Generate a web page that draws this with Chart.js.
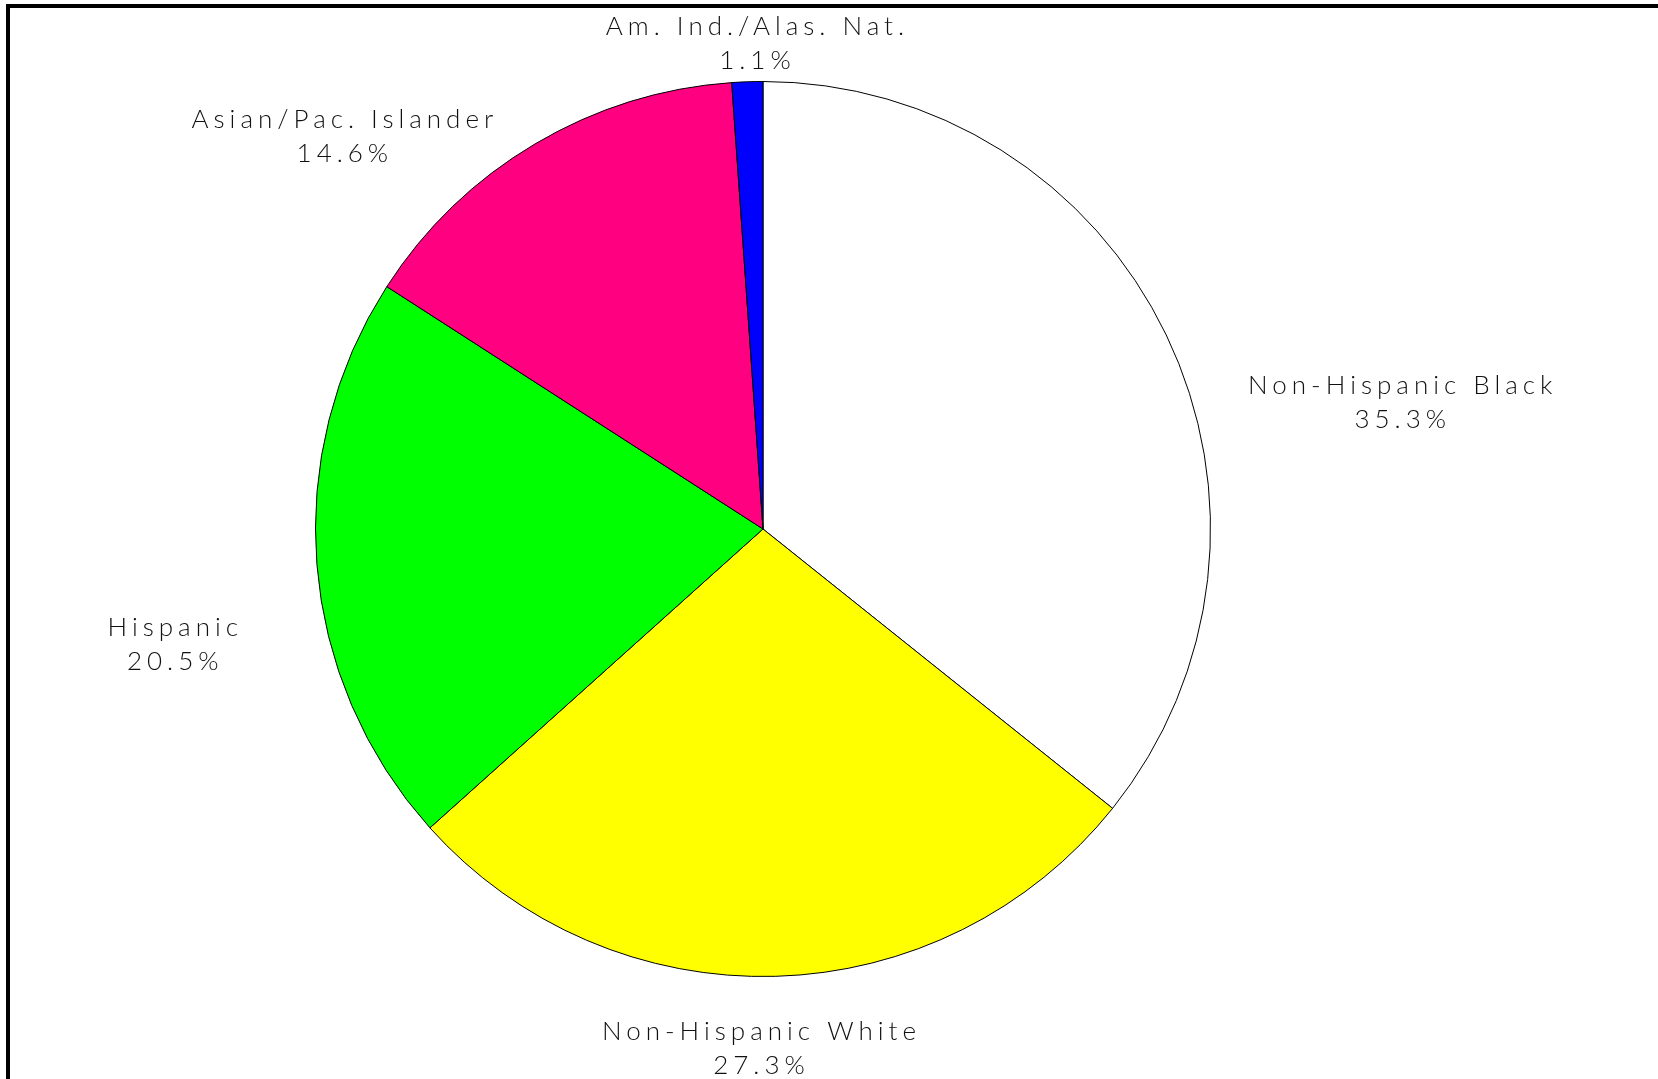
<!DOCTYPE html>
<html>
<head>
<meta charset="utf-8">
<script src="https://cdn.jsdelivr.net/npm/chart.js@4.4.1/dist/chart.umd.min.js"></script>
<style>
  html, body { margin: 0; padding: 0; background: #fff; overflow: hidden; }
  #wrap { position: relative; width: 1658px; height: 1079px; }
  #frame {
    position: absolute; left: 6px; top: 4px; width: 1700px; height: 1200px;
    border-top: 4px solid #000; border-left: 4px solid #000; box-sizing: border-box;
    pointer-events: none;
  }
  canvas { position: absolute; left: 0; top: 0; }
</style>
</head>
<body>
<div id="wrap">
  <canvas id="pieChart" width="1658" height="1079"></canvas>
  <div id="frame"></div>
</div>
<script>
const groups = ['Non-Hispanic Black', 'Non-Hispanic White', 'Hispanic', 'Asian/Pac. Islander', 'Am. Ind./Alas. Nat.'];
const shares = [35.3, 27.3, 20.5, 14.6, 1.1];
const sliceColors = ['#ffffff', '#ffff00', '#00ff00', '#ff0080', '#0000ff'];

// label block centres, in units of the pie radius from its centre
const labelSpots = [[1.424, -0.283], [-0.009, 1.161], [-1.319, 0.259], [-0.94, -0.877], [-0.018, -1.085]];

const outsideLabels = {
  id: 'outsideLabels',
  afterDatasetsDraw(chart) {
    const c = chart.ctx;
    const arcs = chart.getDatasetMeta(0).data;
    const spacing = 5;
    c.save();
    c.font = '300 26px Lato, "DejaVu Sans", sans-serif';
    c.letterSpacing = spacing + 'px';
    c.fillStyle = '#111';
    c.textAlign = 'center';
    c.textBaseline = 'middle';
    arcs.forEach((arc, i) => {
      const r = arc.outerRadius;
      // trailing letter spacing pushes centred text left, so nudge back
      const x = arc.x + labelSpots[i][0] * r + spacing / 2;
      const y = arc.y + labelSpots[i][1] * r;
      c.fillText(groups[i], x, y - 17);
      c.fillText(shares[i].toFixed(1) + '%', x, y + 17);
    });
    c.restore();
  }
};

new Chart(document.getElementById('pieChart').getContext('2d'), {
  type: 'pie',
  data: {
    labels: groups,
    datasets: [{
      data: shares,
      backgroundColor: sliceColors,
      borderColor: '#000',
      borderWidth: 1
    }]
  },
  options: {
    responsive: false,
    animation: false,
    layout: { padding: { top: 81, bottom: 102, left: 315, right: 447 } },
    plugins: {
      legend: { display: false },
      tooltip: { enabled: false }
    }
  },
  plugins: [outsideLabels]
});
</script>
</body>
</html>
